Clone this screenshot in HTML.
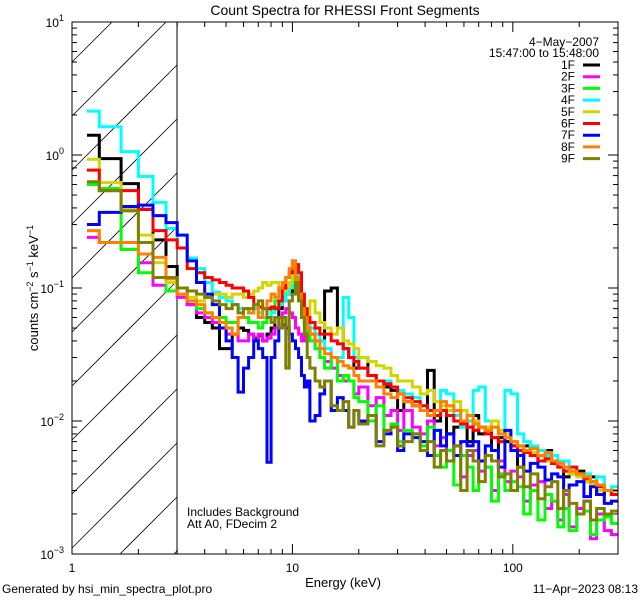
<!DOCTYPE html>
<html><head><meta charset="utf-8"><style>
html,body{margin:0;padding:0;background:#fff;width:640px;height:600px;overflow:hidden;}
svg{display:block;font-family:"Liberation Sans",sans-serif;}
</style></head><body>
<svg id="chart" width="640" height="600" viewBox="0 0 640 600" xmlns="http://www.w3.org/2000/svg">
<rect width="640" height="600" fill="#fff"/>
<text x="345" y="15" font-size="14" text-anchor="middle">Count Spectra for RHESSI Front Segments</text>
<defs><clipPath id="pclip"><rect x="72" y="22" width="546" height="532"/></clipPath></defs>
<g id="hatch"></g>
<line x1="177" y1="22" x2="177" y2="554" stroke="#000" stroke-width="1"/>
<g id="series" clip-path="url(#pclip)"></g>
<rect x="72" y="22" width="546" height="532" fill="none" stroke="#000" stroke-width="1"/>
<g id="axes"></g>
<text x="343" y="587" font-size="13" text-anchor="middle">Energy (keV)</text>
<text transform="translate(38,288) rotate(-90)" font-size="13" text-anchor="middle">counts cm<tspan dy="-5" font-size="9">−2</tspan><tspan dy="5"> s</tspan><tspan dy="-5" font-size="9">−1</tspan><tspan dy="5"> keV</tspan><tspan dy="-5" font-size="9">−1</tspan></text>
<text x="187" y="516" font-size="12">Includes Background</text>
<text x="187" y="528" font-size="12">Att A0, FDecim 2</text>
<text x="599" y="46" font-size="12" text-anchor="end">4−May−2007</text>
<text x="599" y="57" font-size="12" text-anchor="end">15:47:00 to 15:48:00</text>
<g id="legend"></g>
<text x="2" y="593" font-size="12">Generated by hsi_min_spectra_plot.pro</text>
<text x="638" y="593" font-size="12" text-anchor="end">11−Apr−2023 08:13</text>
</svg>
<script>
const edges=[1.17,1.33,1.67,2,2.33,2.67,3,3.33,3.67,4,4.33,4.67,5,5.33,5.67,6,6.33,6.67,7,7.33,7.67,8,8.33,8.67,9,9.33,9.67,10,10.33,10.67,11,11.33,11.67,12,12.67,13.33,14,15,16,17,18,19,20,22,24,26,28,30,32,35,38,41,44,47,50,54,58,62,66,70,75,80,86,92,98,105,112,120,130,140,150,160,170,180,195,210,225,240,260,280,300];
const seriesNames=["1F","2F","3F","4F","5F","6F","7F","8F","9F"];
const seriesColors=["#000000","#ff00ff","#00ff00","#00ffff","#d4d400","#ff0000","#0000ff","#ff8000","#808000"];
const s1F=[1.41,0.94,0.61,0.39,0.23,0.145,0.10,0.075,0.06,0.055,
0.05,0.035,0.035,0.045,0.05,0.048,0.045,0.042,0.044,0.04,
0.045,0.05,0.06,0.07,0.08,0.09,0.09,0.12,0.11,0.09,
0.07,0.055,0.05,0.045,0.04,0.04,0.095,0.1,0.05,0.035,
0.03,0.025,0.03,0.022,0.02,0.018,0.017,0.012,0.014,0.013,
0.012,0.024,0.01,0.012,0.008,0.009,0.01,0.007,0.011,0.008,
0.0085,0.006,0.0075,0.007,0.0065,0.0045,0.0065,0.0055,0.005,0.006,
0.0048,0.005,0.0038,0.004,0.0042,0.0035,0.0038,0.0028,0.003,0.0028];
const s2F=[0.24,0.22,0.195,0.155,0.105,0.095,0.085,0.075,0.065,0.06,
0.055,0.05,0.045,0.045,0.04,0.04,0.045,0.04,0.045,0.04,
0.042,0.045,0.05,0.06,0.065,0.07,0.065,0.06,0.05,0.045,
0.04,0.045,0.04,0.04,0.035,0.03,0.028,0.025,0.022,0.02,
0.02,0.016,0.018,0.013,0.015,0.011,0.012,0.0085,0.012,0.009,
0.008,0.01,0.0065,0.0075,0.005,0.0065,0.0038,0.0055,0.006,0.0042,
0.0045,0.003,0.005,0.0035,0.0042,0.0038,0.0025,0.0033,0.0035,0.0022,
0.0025,0.0018,0.0028,0.0016,0.0022,0.0025,0.0013,0.002,0.0015,0.0014];
const s3F=[0.60,0.56,0.195,0.13,0.12,0.095,0.09,0.08,0.07,0.065,
0.06,0.06,0.055,0.055,0.06,0.06,0.055,0.055,0.05,0.055,
0.06,0.07,0.08,0.08,0.085,0.09,0.1,0.12,0.1,0.08,
0.06,0.05,0.045,0.04,0.035,0.03,0.025,0.03,0.02,0.022,
0.02,0.015,0.014,0.01,0.013,0.0085,0.0095,0.007,0.0085,0.008,
0.0065,0.009,0.0055,0.0045,0.006,0.0033,0.0055,0.0045,0.003,0.005,
0.0045,0.0025,0.004,0.003,0.0035,0.0032,0.002,0.003,0.0018,0.0028,
0.0025,0.0016,0.0022,0.0015,0.002,0.0021,0.0014,0.0018,0.0019,0.0017];
const s4F=[2.14,1.63,1.06,0.69,0.44,0.28,0.20,0.168,0.14,0.11,
0.093,0.085,0.08,0.075,0.07,0.07,0.065,0.07,0.065,0.06,
0.06,0.065,0.07,0.075,0.08,0.09,0.1,0.12,0.13,0.1,
0.08,0.065,0.055,0.05,0.045,0.04,0.035,0.03,0.03,0.085,
0.06,0.03,0.025,0.022,0.02,0.02,0.018,0.017,0.016,0.015,
0.013,0.012,0.011,0.017,0.016,0.011,0.009,0.01,0.017,0.018,
0.01,0.009,0.008,0.017,0.016,0.008,0.007,0.0065,0.006,0.0055,
0.0055,0.005,0.005,0.0045,0.004,0.004,0.0035,0.0038,0.003,0.0032];
const s5F=[0.93,0.62,0.39,0.25,0.155,0.11,0.09,0.085,0.08,0.085,
0.09,0.09,0.085,0.09,0.09,0.085,0.09,0.095,0.1,0.11,
0.105,0.11,0.11,0.1,0.095,0.1,0.11,0.13,0.12,0.1,
0.085,0.065,0.06,0.08,0.065,0.055,0.05,0.045,0.05,0.04,
0.038,0.035,0.03,0.028,0.026,0.025,0.022,0.02,0.02,0.018,
0.016,0.017,0.014,0.013,0.012,0.014,0.012,0.011,0.01,0.009,
0.009,0.01,0.0085,0.008,0.007,0.0065,0.006,0.0058,0.0055,0.005,
0.005,0.0045,0.0042,0.004,0.0038,0.0035,0.0033,0.003,0.003,0.0028];
const s6F=[0.77,0.54,0.54,0.39,0.27,0.23,0.20,0.14,0.13,0.12,
0.115,0.11,0.105,0.1,0.1,0.095,0.085,0.075,0.072,0.07,
0.07,0.072,0.07,0.08,0.1,0.12,0.13,0.16,0.15,0.13,
0.09,0.07,0.06,0.055,0.05,0.045,0.045,0.04,0.038,0.035,
0.03,0.028,0.025,0.022,0.02,0.019,0.018,0.016,0.015,0.014,
0.013,0.012,0.011,0.012,0.011,0.01,0.0095,0.009,0.0085,0.009,
0.008,0.0075,0.007,0.0075,0.0065,0.006,0.0058,0.0055,0.005,0.0052,
0.0048,0.0045,0.0042,0.0045,0.004,0.0037,0.0035,0.0032,0.003,0.0028];
const s7F=[0.30,0.37,0.41,0.42,0.35,0.31,0.25,0.16,0.11,0.09,
0.075,0.05,0.04,0.03,0.0165,0.025,0.03,0.04,0.035,0.03,
0.0049,0.03,0.04,0.05,0.053,0.05,0.045,0.04,0.035,0.03,
0.022,0.018,0.02,0.01,0.011,0.016,0.02,0.012,0.015,0.012,
0.009,0.012,0.01,0.011,0.007,0.008,0.009,0.006,0.008,0.0075,
0.007,0.0055,0.0085,0.0065,0.008,0.0055,0.007,0.0065,0.007,0.005,
0.0065,0.006,0.0045,0.0085,0.006,0.0055,0.0042,0.0048,0.0045,0.0036,
0.004,0.0038,0.003,0.0033,0.0035,0.0027,0.0032,0.0028,0.0024,0.0025];
const s8F=[0.27,0.22,0.22,0.18,0.17,0.117,0.09,0.08,0.075,0.065,
0.06,0.055,0.05,0.045,0.06,0.07,0.065,0.075,0.06,0.07,
0.08,0.09,0.085,0.1,0.11,0.12,0.14,0.16,0.12,0.09,
0.07,0.06,0.05,0.045,0.04,0.035,0.032,0.03,0.028,0.026,
0.025,0.022,0.02,0.02,0.018,0.016,0.015,0.016,0.014,0.013,
0.012,0.011,0.012,0.014,0.013,0.012,0.01,0.011,0.0095,0.009,
0.0085,0.009,0.008,0.0075,0.007,0.0065,0.006,0.0062,0.0055,0.0058,
0.005,0.0048,0.0045,0.0042,0.004,0.0038,0.0035,0.0033,0.003,0.003];
const s9F=[0.63,0.54,0.38,0.22,0.12,0.12,0.10,0.095,0.09,0.085,
0.08,0.075,0.07,0.075,0.065,0.07,0.07,0.075,0.08,0.07,
0.06,0.055,0.06,0.05,0.06,0.025,0.08,0.09,0.11,0.08,
0.06,0.045,0.03,0.025,0.02,0.018,0.02,0.013,0.012,0.014,
0.009,0.012,0.0095,0.011,0.0065,0.0085,0.009,0.0065,0.007,0.008,
0.006,0.007,0.0045,0.006,0.005,0.0065,0.003,0.006,0.005,0.0035,
0.0055,0.005,0.0038,0.004,0.003,0.0045,0.0032,0.004,0.0026,0.0032,
0.0035,0.0022,0.003,0.0024,0.002,0.0025,0.0018,0.0022,0.002,0.0021];
const allSeries=[s1F,s2F,s3F,s4F,s5F,s6F,s7F,s8F,s9F];
const xMajorTicks=[1,10,100];
const xMajorLabels=["1","10","100"];
const yMajorTicks=[0.001,0.01,0.1,1,10];
const yMajorExps=["−3","−2","−1","0","1"];

const NS="http://www.w3.org/2000/svg";
const X0=72,X1=618,Y0=22,Y1=554,XMIN=1,XMAX=300,YMIN=0.001,YMAX=10;
function xs(e){return X0+(Math.log10(e)-Math.log10(XMIN))/(Math.log10(XMAX)-Math.log10(XMIN))*(X1-X0);}
function ys(v){return Y1-(Math.log10(v)-Math.log10(YMIN))/(Math.log10(YMAX)-Math.log10(YMIN))*(Y1-Y0);}
function mk(tag,attrs,parent){const el=document.createElementNS(NS,tag);for(const k in attrs)el.setAttribute(k,attrs[k]);parent.appendChild(el);return el;}

// hatch lines, clipped geometrically to x 72..177, y 22..554
const hatch=document.getElementById('hatch');
for(let b=-600;b<700;b+=54){
  const xa=Math.max(72,72+b), xb=Math.min(177,72+b+532);
  if(xa>=xb) continue;
  const ya=554+b-(xa-72), yb=554+b-(xb-72);
  const l=mk('line',{x1:xa,y1:ya,x2:xb,y2:yb,stroke:'#000','stroke-width':0.8},hatch);
  
  
}

const sg=document.getElementById('series');
allSeries.forEach((vals,si)=>{
  let d='';
  for(let i=0;i<vals.length;i++){
    const xa=xs(edges[i]),xb=xs(edges[i+1]),y=ys(vals[i]);
    d+=(i===0?'M':'L')+xa.toFixed(1)+','+y.toFixed(1)+'L'+xb.toFixed(1)+','+y.toFixed(1);
  }
  const p=mk('path',{d:d,fill:'none',stroke:seriesColors[si],'stroke-width':3,'stroke-linejoin':'miter'},sg);
  
  
});

const ax=document.getElementById('axes');
for(let dec=0;dec<3;dec++){
  for(let m=1;m<10;m++){
    const e=Math.pow(10,dec)*m; if(e>XMAX)break;
    const x=xs(e),len=(m===1)?10:5;
    mk('line',{x1:x,y1:Y1,x2:x,y2:Y1-len,stroke:'#000','stroke-width':1},ax);
    mk('line',{x1:x,y1:Y0,x2:x,y2:Y0+len,stroke:'#000','stroke-width':1},ax);
  }
}
xMajorTicks.forEach((e,i)=>{
  const t=mk('text',{x:xs(e),y:572,'font-size':12,'text-anchor':'middle'},ax);
  t.textContent=xMajorLabels[i];
  
  
});
for(let dec=-3;dec<1;dec++){
  for(let m=1;m<10;m++){
    const v=Math.pow(10,dec)*m;
    const y=ys(v),len=(m===1)?10:5;
    mk('line',{x1:X0,y1:y,x2:X0+len,y2:y,stroke:'#000','stroke-width':1},ax);
    mk('line',{x1:X1,y1:y,x2:X1-len,y2:y,stroke:'#000','stroke-width':1},ax);
  }
}
yMajorTicks.forEach((v,i)=>{
  const t=mk('text',{x:64,y:ys(v)+5,'font-size':12,'text-anchor':'end'},ax);
  
  
  const a=mk('tspan',{},t);a.textContent='10';
  const b=mk('tspan',{dy:-6,'font-size':9},t);b.textContent=yMajorExps[i];
});

const lg=document.getElementById('legend');
seriesNames.forEach((n,i)=>{
  const y=65+i*11.7;
  const t=mk('text',{x:575,y:y+4,'font-size':12,'text-anchor':'end'},lg);
  t.textContent=n;
  
  
  const l=mk('line',{x1:583,y1:y,x2:600,y2:y,stroke:seriesColors[i],'stroke-width':3},lg);
  
  
});
</script>
</body></html>
